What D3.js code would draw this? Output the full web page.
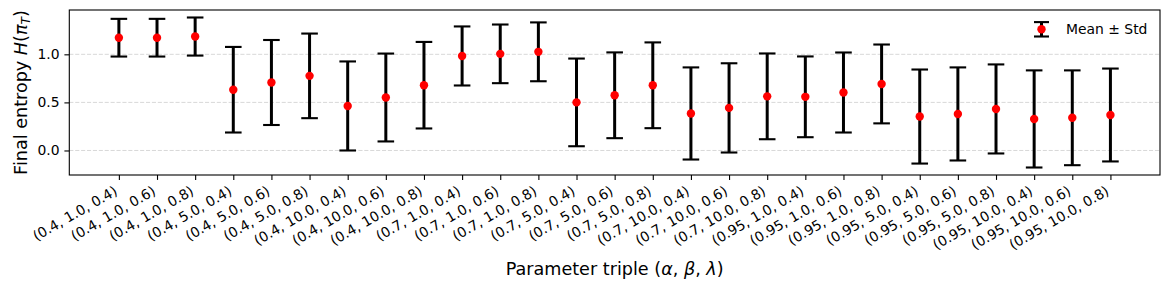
<!DOCTYPE html>
<html>
<head>
<meta charset="utf-8">
<script src="https://cdn.jsdelivr.net/npm/d3@7/dist/d3.min.js"></script>
<style>
  html, body { margin: 0; padding: 0; background: #fff; }
  svg { display: block; font-family: "DejaVu Sans", sans-serif; }
</style>
</head>
<body>
<svg id="chart" width="1169" height="290"></svg>
<script>
const categories = [
  "(0.4, 1.0, 0.4)", "(0.4, 1.0, 0.6)", "(0.4, 1.0, 0.8)",
  "(0.4, 5.0, 0.4)", "(0.4, 5.0, 0.6)", "(0.4, 5.0, 0.8)",
  "(0.4, 10.0, 0.4)", "(0.4, 10.0, 0.6)", "(0.4, 10.0, 0.8)",
  "(0.7, 1.0, 0.4)", "(0.7, 1.0, 0.6)", "(0.7, 1.0, 0.8)",
  "(0.7, 5.0, 0.4)", "(0.7, 5.0, 0.6)", "(0.7, 5.0, 0.8)",
  "(0.7, 10.0, 0.4)", "(0.7, 10.0, 0.6)", "(0.7, 10.0, 0.8)",
  "(0.95, 1.0, 0.4)", "(0.95, 1.0, 0.6)", "(0.95, 1.0, 0.8)",
  "(0.95, 5.0, 0.4)", "(0.95, 5.0, 0.6)", "(0.95, 5.0, 0.8)",
  "(0.95, 10.0, 0.4)", "(0.95, 10.0, 0.6)", "(0.95, 10.0, 0.8)"
];
const means = [
  1.173, 1.173, 1.185,
  0.632, 0.707, 0.776,
  0.463, 0.551, 0.679,
  0.983, 1.005, 1.026,
  0.500, 0.574, 0.678,
  0.385, 0.443, 0.563,
  0.558, 0.603, 0.692,
  0.353, 0.380, 0.432,
  0.328, 0.340, 0.369
];
const stds = [
  0.196, 0.196, 0.198,
  0.445, 0.442, 0.440,
  0.463, 0.457, 0.450,
  0.307, 0.305, 0.306,
  0.456, 0.446, 0.446,
  0.479, 0.464, 0.446,
  0.420, 0.416, 0.410,
  0.489, 0.484, 0.463,
  0.505, 0.493, 0.483
];
const yTicks = [0.0, 0.5, 1.0];
const xLabelParts = [["Parameter triple (", false], ["α", true], [", ", false], ["β", true], [", ", false], ["λ", true], [")", false]];
const legendLabel = "Mean ± Std";

(function () {
const W = 1169, H = 290;
const mLeft = 69.3, mRight = 1160, mTop = 10, mBottom = 175;
const svg = d3.select("#chart");
svg.append("rect").attr("width", W).attr("height", H).attr("fill", "#fff");

const n = categories.length;
const xPad = 0.05 * (n - 1);
const x = d3.scaleLinear().domain([-xPad, n - 1 + xPad]).range([mLeft, mRight]);
const lo = d3.min(means.map((m, i) => m - stds[i]));
const hi = d3.max(means.map((m, i) => m + stds[i]));
const yPad = 0.05 * (hi - lo);
const y = d3.scaleLinear().domain([lo - yPad, hi + yPad]).range([mBottom, mTop]);

// grid
svg.append("g").selectAll("line").data(yTicks).join("line")
  .attr("x1", mLeft).attr("x2", mRight)
  .attr("y1", d => y(d)).attr("y2", d => y(d))
  .attr("stroke", "#b0b0b0").attr("stroke-opacity", 0.55)
  .attr("stroke-width", 0.9).attr("stroke-dasharray", "4.1,1.8");

// error bars
const capHalf = 8.3;
const g = svg.append("g");
const idx = d3.range(n);
g.selectAll("line.eb").data(idx).join("line").attr("class", "eb")
  .attr("x1", i => x(i)).attr("x2", i => x(i))
  .attr("y1", i => y(means[i] - stds[i])).attr("y2", i => y(means[i] + stds[i]))
  .attr("stroke", "#000").attr("stroke-width", 3);
["lo", "hi"].forEach(k => {
  g.selectAll("line.cap" + k).data(idx).join("line").attr("class", "cap" + k)
    .attr("x1", i => x(i) - capHalf).attr("x2", i => x(i) + capHalf)
    .attr("y1", i => y(k === "lo" ? means[i] - stds[i] : means[i] + stds[i]))
    .attr("y2", i => y(k === "lo" ? means[i] - stds[i] : means[i] + stds[i]))
    .attr("stroke", "#000").attr("stroke-width", 2.1);
});
g.selectAll("circle").data(idx).join("circle")
  .attr("cx", i => x(i)).attr("cy", i => y(means[i])).attr("r", 4.2)
  .attr("fill", "#ff0000");

// axes
const fs = 13.9;
const yAxis = svg.append("g").attr("transform", `translate(${mLeft},0)`)
  .call(d3.axisLeft(y).tickValues(yTicks).tickFormat(d3.format(".1f")).tickSize(4.9).tickPadding(4.9));
yAxis.select(".domain").remove();
yAxis.selectAll("line").attr("stroke", "#000").attr("stroke-width", 1.1);
yAxis.selectAll("text").attr("font-size", fs).attr("font-family", "DejaVu Sans").attr("fill", "#000");

const xAxis = svg.append("g").attr("transform", `translate(0,${mBottom})`)
  .call(d3.axisBottom(x).tickValues(idx).tickFormat(i => categories[i]).tickSize(4.9).tickPadding(4.9));
xAxis.select(".domain").remove();
xAxis.selectAll("line").attr("stroke", "#000").attr("stroke-width", 1.1);
const hBox = 0.89 * fs;
xAxis.selectAll("text")
  .attr("font-size", fs).attr("font-family", "DejaVu Sans").attr("fill", "#000")
  .attr("text-anchor", "end")
  .attr("y", 0).attr("dy", null)
  .attr("transform", `translate(${-0.5 * hBox},9.7) rotate(-30) translate(0,${0.76 * fs})`);

svg.append("rect").attr("x", mLeft).attr("y", mTop).attr("width", mRight - mLeft).attr("height", mBottom - mTop)
  .attr("fill", "none").attr("stroke", "#000").attr("stroke-width", 1.1);

// axis labels
const lfs = 17.6;
const xl = svg.append("text").attr("x", (mLeft + mRight) / 2).attr("y", 275)
  .attr("text-anchor", "middle").attr("font-size", lfs).attr("fill", "#000");
xLabelParts.forEach(([t, it]) => xl.append("tspan").text(t).attr("font-style", it ? "italic" : "normal"));

const yl = svg.append("text")
  .attr("transform", `translate(26.5,${(mTop + mBottom) / 2}) rotate(-90)`)
  .attr("text-anchor", "middle").attr("font-size", lfs).attr("fill", "#000");
yl.append("tspan").text("Final entropy ");
yl.append("tspan").text("H").attr("font-style", "italic");
yl.append("tspan").text("(");
yl.append("tspan").text("π").attr("font-style", "italic");
yl.append("tspan").text("T").attr("font-style", "italic").attr("font-size", lfs * 0.7).attr("dy", 3.5);
yl.append("tspan").text(")").attr("dy", -3.5);

// legend
const lx = mRight - 118.5, ly = mTop + 19.3;
const lg = svg.append("g");
lg.append("line").attr("x1", lx).attr("x2", lx).attr("y1", ly - 7.2).attr("y2", ly + 7.2)
  .attr("stroke", "#000").attr("stroke-width", 3);
[ -7.2, 7.2 ].forEach(dy => lg.append("line").attr("x1", lx - 7.5).attr("x2", lx + 7.5)
  .attr("y1", ly + dy).attr("y2", ly + dy).attr("stroke", "#000").attr("stroke-width", 2.1));
lg.append("circle").attr("cx", lx).attr("cy", ly).attr("r", 4.2).attr("fill", "#ff0000");
lg.append("text").attr("x", lx + 24.5).attr("y", ly).attr("dy", "0.36em")
  .attr("font-size", fs).attr("fill", "#000").text(legendLabel);
})();
</script>
</body>
</html>
